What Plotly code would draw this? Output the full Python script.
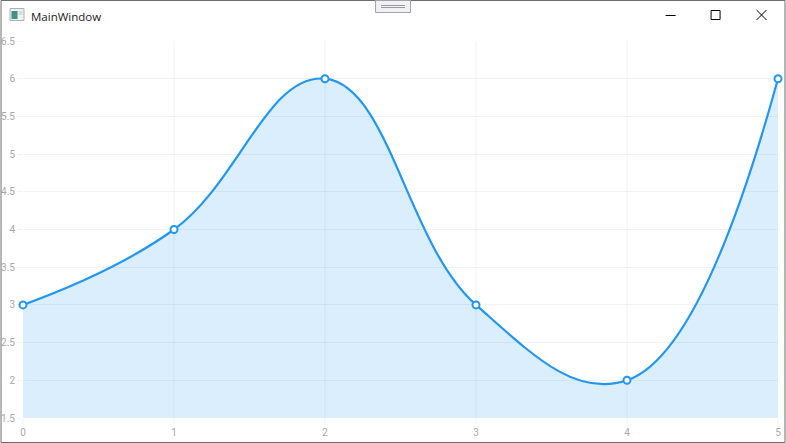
import plotly.graph_objects as go

x_values = [0, 1, 2, 3, 4, 5]
y_values = [3, 4, 6, 3, 2, 6]
y_ticks = [1.5, 2, 2.5, 3, 3.5, 4, 4.5, 5, 5.5, 6, 6.5]
y_tick_labels = ["1.5", "2", "2.5", "3", "3.5", "4", "4.5", "5", "5.5", "6", "6.5"]
title_text = "MainWindow"

W, H = 786, 443
L, R, T, B = 22.5, 7.5, 41, 25
BLUE = "#2196f3"
GRID_H = "rgba(0,0,0,0.05)"
GRID_V = "rgba(0,0,0,0.028)"
TICKTXT = "#a8a8a8"


def px(v):
    return (v - L) / (W - L - R)


def py(v):
    return 1 - (v - T) / (H - T - B)


def rect(x0, y0, x1, y1, line=None, fill=None, width=1):
    return dict(type="rect", xref="paper", yref="paper", layer="above",
                x0=px(x0), x1=px(x1), y0=py(y0), y1=py(y1),
                line=dict(color=line, width=width) if line else dict(width=0),
                fillcolor=fill if fill else "rgba(0,0,0,0)")


def seg(x0, y0, x1, y1, color="#000000", width=1):
    return dict(type="line", xref="paper", yref="paper", layer="above",
                x0=px(x0), x1=px(x1), y0=py(y0), y1=py(y1),
                line=dict(color=color, width=width))


shapes = [
    # window frame
    rect(0.5, 0.5, 785.5, 442.5, line="#6e6e6e", width=1),
    # window icon
    rect(9.5, 8.5, 23.5, 20.5, line="#a9b0b0", fill="#eef1f1"),
    rect(11, 11, 17, 19, fill="#3f8f83"),
    rect(18, 11, 22, 15, fill="#d5dcdc"),
    # drag handle
    rect(375.5, 0.5, 410.5, 12.5, line="#a3a3a3", fill="#f0f0f5"),
    seg(381, 5.5, 405, 5.5, color="#9a9a9a"),
    seg(381, 7.5, 405, 7.5, color="#9a9a9a"),
    # window buttons
    seg(666, 15.5, 676, 15.5),
    rect(711.5, 10.5, 720.5, 19.5, line="#000000"),
    seg(757, 10, 767, 20),
    seg(767, 10, 757, 20),
]

fig = go.Figure()
fig.add_trace(go.Scatter(
    x=x_values, y=y_values, mode="lines+markers",
    line=dict(color=BLUE, width=2.2, shape="spline", smoothing=1.2),
    fill="tozeroy", fillcolor="rgba(33,150,243,0.16)",
    marker=dict(size=7, color="#ffffff", line=dict(color=BLUE, width=2)),
    cliponaxis=False, hoverinfo="skip", showlegend=False,
))

fig.update_layout(
    width=W, height=H,
    margin=dict(l=L, r=R, t=T, b=B, pad=0),
    paper_bgcolor="#ffffff", plot_bgcolor="#ffffff",
    shapes=shapes,
    annotations=[dict(
        text=title_text, xref="paper", yref="paper",
        x=px(28.5), y=py(16), xanchor="left", yanchor="middle", showarrow=False,
        font=dict(family="Open Sans", size=11.5, color="#1a1a1a"),
    )],
    xaxis=dict(
        range=[0, 5], tickmode="array", tickvals=x_values,
        ticktext=[str(v) for v in x_values], automargin=False,
        showgrid=True, gridcolor=GRID_V, gridwidth=2, zeroline=False,
        ticks="outside", ticklen=5, tickcolor=GRID_V, tickwidth=2,
        tickfont=dict(family="Roboto", size=10, color=TICKTXT), showline=False,
    ),
    yaxis=dict(
        range=[1.5, 6.5], tickmode="array", tickvals=y_ticks, ticktext=y_tick_labels,
        automargin=False,
        showgrid=True, gridcolor=GRID_H, gridwidth=1, zeroline=False,
        ticks="outside", ticklen=5, tickcolor=GRID_H, tickwidth=1,
        tickfont=dict(family="Roboto", size=10, color=TICKTXT), showline=False,
    ),
)

fig.write_html("out.html", config=dict(displayModeBar=False),
               post_script="document.body.style.margin='0';")
